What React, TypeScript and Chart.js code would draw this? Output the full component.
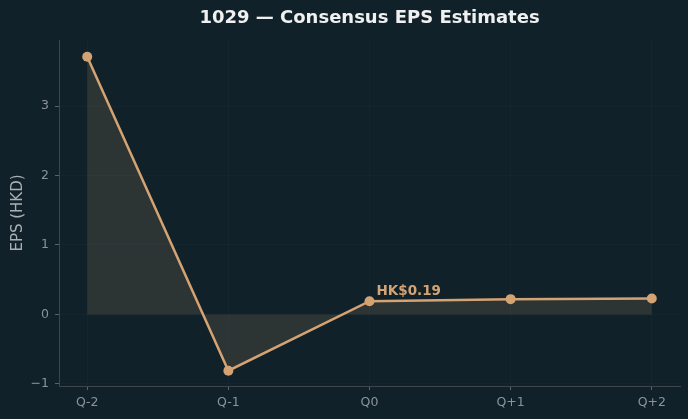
import React, { useEffect, useRef } from "react";
import { Chart, registerables } from "chart.js";

Chart.register(...registerables);

const categories = ["Q-2", "Q-1", "Q0", "Q+1", "Q+2"];
const epsValues = [3.71, -0.81, 0.19, 0.22, 0.23];
const yTicks = [-1, 0, 1, 2, 3];
const annotationText = "HK$0.19";
const annotationIndex = 2;
const titleText = "1029 — Consensus EPS Estimates";

const BG = "#10212a";
const LINE = "#d4a373";
const FONT = "'DejaVu Sans', sans-serif";

export default function App() {
  const ref = useRef<HTMLCanvasElement>(null);
  useEffect(() => {
    if (!ref.current) return;
    const bgPlugin = {
      id: "bg",
      beforeDraw(chart: any) {
        const ctx = chart.ctx;
        ctx.save();
        ctx.fillStyle = BG;
        ctx.fillRect(0, 0, chart.width, chart.height);
        ctx.restore();
      },
      afterDraw(chart: any) {
        const ctx = chart.ctx;
        const xs = chart.scales.x;
        const ys = chart.scales.y;
        ctx.save();
        ctx.fillStyle = "#f0f0f0";
        ctx.font = `bold 18px ${FONT}`;
        ctx.textAlign = "center";
        ctx.textBaseline = "middle";
        ctx.fillText(titleText, (chart.chartArea.left + chart.chartArea.right) / 2, 18);
        const px = xs.getPixelForValue(annotationIndex);
        const py = ys.getPixelForValue(epsValues[annotationIndex]);
        ctx.fillStyle = LINE;
        ctx.font = `bold 13.5px ${FONT}`;
        ctx.textAlign = "left";
        ctx.textBaseline = "alphabetic";
        ctx.fillText(annotationText, px + 7, py - 6);
        ctx.restore();
      },
    };
    const chart = new Chart(ref.current, {
      type: "line",
      data: {
        datasets: [
          {
            data: epsValues.map((v, i) => ({ x: i, y: v })),
            borderColor: LINE,
            backgroundColor: "rgba(212,163,115,0.15)",
            fill: { value: 0 },
            borderWidth: 2.5,
            pointRadius: 5,
            pointBackgroundColor: LINE,
            pointBorderColor: LINE,
            pointBorderWidth: 0,
            tension: 0,
          },
        ],
      },
      options: {
        animation: false,
        responsive: false,
        events: [],
        layout: { padding: { top: 40, right: 8, left: 0, bottom: 0 } },
        plugins: { legend: { display: false }, tooltip: { enabled: false }, title: { display: false } },
        scales: {
          x: {
            type: "linear",
            min: -0.2,
            max: 4.2,
            afterBuildTicks(scale: any) {
              scale.ticks = categories.map((_, i) => ({ value: i }));
            },
            afterFit(scale: any) {
              scale.height = 33;
            },
            ticks: {
              callback: (v: any) => categories[v as number] ?? "",
              color: "#8a9499",
              font: { family: FONT, size: 12.5 },
              padding: 5,
              maxRotation: 0,
            },
            grid: {
              color: "rgba(255,255,255,0.02)",
              tickColor: "#5a6468",
              tickLength: 4,
              drawTicks: true,
            },
            border: { color: "#3d474b", width: 1 },
          },
          y: {
            min: -1.03,
            max: 3.95,
            afterBuildTicks(scale: any) {
              scale.ticks = yTicks.map((v) => ({ value: v }));
            },
            afterFit(scale: any) {
              scale.width = 59;
            },
            ticks: {
              callback: (v: any) => (v < 0 ? "\u2212" + Math.abs(v) : String(v)),
              color: "#8a9499",
              font: { family: FONT, size: 12.5 },
              padding: 6,
            },
            grid: {
              color: "rgba(255,255,255,0.02)",
              tickColor: "#5a6468",
              tickLength: 4,
            },
            border: { color: "#3d474b", width: 1 },
            title: {
              display: true,
              text: "EPS (HKD)",
              color: "#a9b0b4",
              font: { family: FONT, size: 15 },
              padding: { top: 9, bottom: 0 },
            },
          },
        },
      },
      plugins: [bgPlugin],
    } as any);
    return () => chart.destroy();
  }, []);
  return (
    <div style={{ position: "absolute", left: 0, top: 0, width: 688, height: 419, background: BG }}>
      <canvas ref={ref} width={688} height={419} style={{ display: "block" }} />
    </div>
  );
}
